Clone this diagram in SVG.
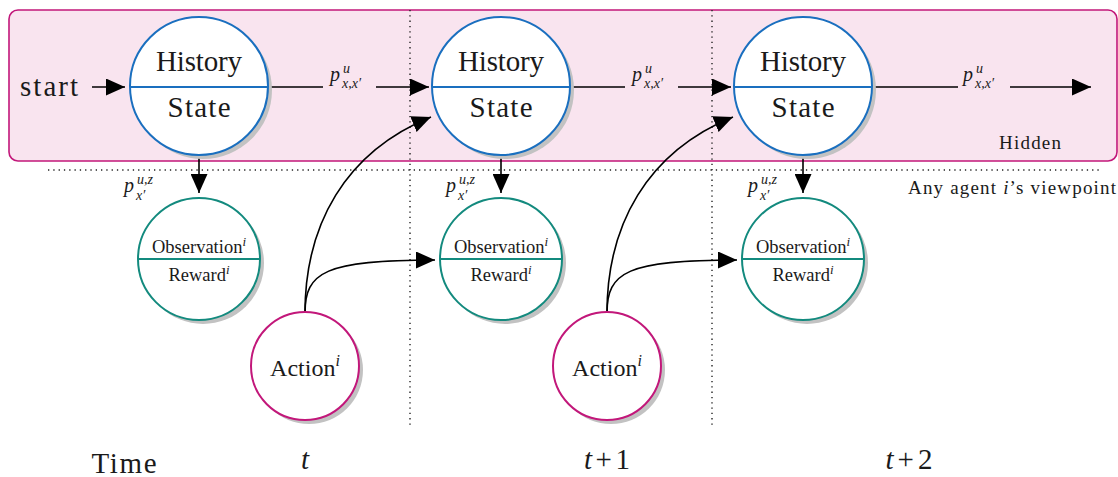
<svg xmlns="http://www.w3.org/2000/svg" width="1118" height="477" viewBox="0 0 1118 477" font-family="'Liberation Serif', 'DejaVu Serif', 'Times New Roman', serif">
<style>
text, tspan{font-family:'Liberation Serif','DejaVu Serif','Times New Roman',serif;fill:#1a1a1a}
.it{font-style:italic}
.big{font-size:29px}
.obs{font-size:18.5px}
.act{font-size:24px}
.sm{font-size:19px}
.pl{font-size:20px;font-style:italic}
.ps{font-size:14px;font-style:italic}
.shadow{fill:#c2c2c2}
.st{fill:#fff;stroke:#1a6fbf;stroke-width:2}
.ob{fill:#fff;stroke:#138a7e;stroke-width:2}
.ac{fill:#fff;stroke:#c2177a;stroke-width:2}
.edge{fill:none;stroke:#000;stroke-width:1.6}
.dot{fill:none;stroke:#222;stroke-width:1.4;stroke-dasharray:1.3 4}
</style>
<defs>
<marker id="ah" markerUnits="userSpaceOnUse" markerWidth="20" markerHeight="17" refX="19" refY="8.5" orient="auto">
<path d="M0,0 L19,8.5 L0,17 z" fill="#000"/>
</marker>
</defs>
<rect width="1118" height="477" fill="#fff"/>
<g id="hidden-region">
<rect x="9" y="10" width="1108" height="151" rx="9" fill="#f9e4ef" stroke="#c2177a" stroke-width="1.6"/>
<text class="sm" x="1030" y="149" text-anchor="middle" textLength="62">Hidden</text>
</g>
<g id="dividers">
<line class="dot" x1="48" y1="170" x2="1100" y2="170"/>
<line class="dot" x1="410" y1="10" x2="410" y2="426"/>
<line class="dot" x1="712" y1="10" x2="712" y2="426"/>
</g>
<text class="sm" x="1116" y="194" text-anchor="end" textLength="208">Any agent <tspan class="it">i</tspan>’s viewpoint</text>
<g id="connectors">
<line class="edge" x1="92" y1="87" x2="125" y2="87" marker-end="url(#ah)"/>
<line class="edge" x1="268" y1="87" x2="323" y2="87"/>
<line class="edge" x1="376" y1="87" x2="429" y2="87" marker-end="url(#ah)"/>
<line class="edge" x1="570" y1="87" x2="625" y2="87"/>
<line class="edge" x1="678" y1="87" x2="731" y2="87" marker-end="url(#ah)"/>
<line class="edge" x1="872" y1="87" x2="958" y2="87"/>
<line class="edge" x1="1010" y1="87" x2="1091" y2="87" marker-end="url(#ah)"/>
<line class="edge" x1="199" y1="156" x2="199" y2="193" marker-end="url(#ah)"/>
<line class="edge" x1="501" y1="156" x2="501" y2="193" marker-end="url(#ah)"/>
<line class="edge" x1="803" y1="156" x2="803" y2="193" marker-end="url(#ah)"/>
<path class="edge" d="M305,313 C305,225 345,152 431,117" marker-end="url(#ah)"/>
<path class="edge" d="M305,313 C305,272 325,260 435,260" marker-end="url(#ah)"/>
<path class="edge" d="M607,313 C607,225 647,152 733,117" marker-end="url(#ah)"/>
<path class="edge" d="M607,313 C607,272 627,260 737,260" marker-end="url(#ah)"/>
<g id="label-p1">
<text class="pl" x="330" y="81">p</text>
<text class="ps" x="343" y="73">u</text>
<text class="ps" x="342" y="88">x,x′</text>
</g>
<g id="label-p2">
<text class="pl" x="632" y="81">p</text>
<text class="ps" x="645" y="73">u</text>
<text class="ps" x="644" y="88">x,x′</text>
</g>
<g id="label-p3">
<text class="pl" x="963" y="81">p</text>
<text class="ps" x="976" y="73">u</text>
<text class="ps" x="975" y="88">x,x′</text>
</g>
<g id="label-o1">
<text class="pl" x="124" y="192">p</text>
<text class="ps" x="137" y="184">u,z</text>
<text class="ps" x="136" y="200">x′</text>
</g>
<g id="label-o2">
<text class="pl" x="446" y="192">p</text>
<text class="ps" x="459" y="184">u,z</text>
<text class="ps" x="458" y="200">x′</text>
</g>
<g id="label-o3">
<text class="pl" x="748" y="192">p</text>
<text class="ps" x="761" y="184">u,z</text>
<text class="ps" x="760" y="200">x′</text>
</g>
</g>
<text id="start" class="big" x="20" y="96" textLength="58">start</text>
<g id="state1">
<circle class="shadow" cx="203" cy="90" r="69"/>
<circle class="st" cx="199" cy="86" r="69"/>
<line x1="130" y1="87" x2="268" y2="87" stroke="#1a6fbf" stroke-width="2"/>
<text class="big" x="199" y="71" text-anchor="middle" textLength="86">History</text>
<text class="big" x="199" y="117" text-anchor="middle" textLength="63">State</text>
</g>
<g id="state2">
<circle class="shadow" cx="505" cy="90" r="69"/>
<circle class="st" cx="501" cy="86" r="69"/>
<line x1="432" y1="87" x2="570" y2="87" stroke="#1a6fbf" stroke-width="2"/>
<text class="big" x="501" y="71" text-anchor="middle" textLength="86">History</text>
<text class="big" x="501" y="117" text-anchor="middle" textLength="63">State</text>
</g>
<g id="state3">
<circle class="shadow" cx="807" cy="90" r="69"/>
<circle class="st" cx="803" cy="86" r="69"/>
<line x1="734" y1="87" x2="872" y2="87" stroke="#1a6fbf" stroke-width="2"/>
<text class="big" x="803" y="71" text-anchor="middle" textLength="86">History</text>
<text class="big" x="803" y="117" text-anchor="middle" textLength="63">State</text>
</g>
<g id="obs1">
<circle class="shadow" cx="203" cy="263" r="61"/>
<circle class="ob" cx="199" cy="259" r="61"/>
<line x1="138" y1="259" x2="260" y2="259" stroke="#138a7e" stroke-width="2"/>
<text class="obs" x="199" y="253" text-anchor="middle">Observation<tspan class="it" font-size="13" dy="-7">i</tspan></text>
<text class="obs" x="199" y="281" text-anchor="middle">Reward<tspan class="it" font-size="13" dy="-7">i</tspan></text>
</g>
<g id="obs2">
<circle class="shadow" cx="505" cy="263" r="61"/>
<circle class="ob" cx="501" cy="259" r="61"/>
<line x1="440" y1="259" x2="562" y2="259" stroke="#138a7e" stroke-width="2"/>
<text class="obs" x="501" y="253" text-anchor="middle">Observation<tspan class="it" font-size="13" dy="-7">i</tspan></text>
<text class="obs" x="501" y="281" text-anchor="middle">Reward<tspan class="it" font-size="13" dy="-7">i</tspan></text>
</g>
<g id="obs3">
<circle class="shadow" cx="807" cy="263" r="61"/>
<circle class="ob" cx="803" cy="259" r="61"/>
<line x1="742" y1="259" x2="864" y2="259" stroke="#138a7e" stroke-width="2"/>
<text class="obs" x="803" y="253" text-anchor="middle">Observation<tspan class="it" font-size="13" dy="-7">i</tspan></text>
<text class="obs" x="803" y="281" text-anchor="middle">Reward<tspan class="it" font-size="13" dy="-7">i</tspan></text>
</g>
<g id="action1">
<circle class="shadow" cx="309" cy="370" r="54"/>
<circle class="ac" cx="305" cy="366" r="54"/>
<text class="act" x="305" y="376" text-anchor="middle">Action<tspan class="it" font-size="16" dy="-10">i</tspan></text>
</g>
<g id="action2">
<circle class="shadow" cx="611" cy="370" r="54"/>
<circle class="ac" cx="607" cy="366" r="54"/>
<text class="act" x="607" y="376" text-anchor="middle">Action<tspan class="it" font-size="16" dy="-10">i</tspan></text>
</g>
<g id="timeline">
<text class="big" x="124" y="473" text-anchor="middle" textLength="65">Time</text>
<text class="big it" x="305" y="469" text-anchor="middle">t</text>
<text class="big" x="607" y="469" text-anchor="middle" textLength="46"><tspan class="it">t</tspan>+1</text>
<text class="big" x="909" y="469" text-anchor="middle" textLength="47"><tspan class="it">t</tspan>+2</text>
</g>
</svg>
